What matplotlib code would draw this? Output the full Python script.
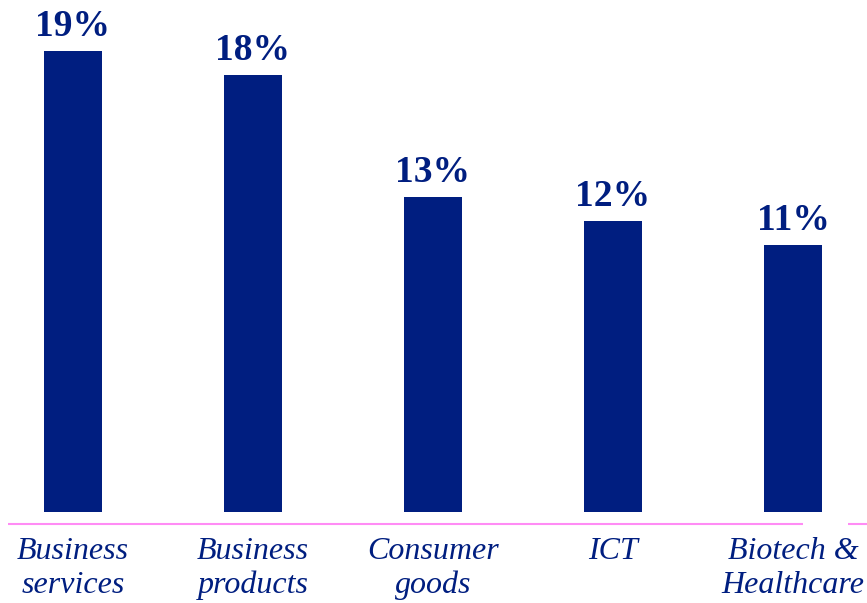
import matplotlib
matplotlib.use("Agg")
import matplotlib.pyplot as plt

categories = ["Business\nservices", "Business\nproducts", "Consumer\ngoods", "ICT", "Biotech &\nHealthcare"]
values = [19, 18, 13, 12, 11]

navy = "#001E80"
pink = "#FF8CF5"

fig = plt.figure(figsize=(8.67, 6.03), dpi=100)
ax = fig.add_axes([0, 91 / 603, 1, 1 - 91 / 603])

x = range(len(categories))
bars = ax.bar(x, values, width=0.317, color=navy)

for b, v in zip(bars, values):
    ax.annotate(f"{v}%", (b.get_x() + b.get_width() / 2, b.get_height()),
                xytext=(0, 5), textcoords="offset points",
                ha="center", va="bottom", fontsize=27, fontweight="bold",
                family="Liberation Serif", color=navy)

ax.set_xlim(-73 / 180, (867 - 73) / 180)
ax.set_ylim(0, 512 / 24.26)

# pink baseline with a gap near the right edge
ax.hlines(-0.5, -0.361, 4.056, color=pink, lw=1.5, clip_on=False)
ax.hlines(-0.5, 4.306, 4.42, color=pink, lw=1.5, clip_on=False)

ax.set_xticks(list(x))
ax.set_xticklabels(categories, fontsize=23, style="italic",
                   family="Liberation Serif", color=navy, linespacing=1.22)
ax.tick_params(axis="x", length=0, pad=18)
ax.set_yticks([])
for s in ax.spines.values():
    s.set_visible(False)

fig.savefig("out.png", dpi=100)
